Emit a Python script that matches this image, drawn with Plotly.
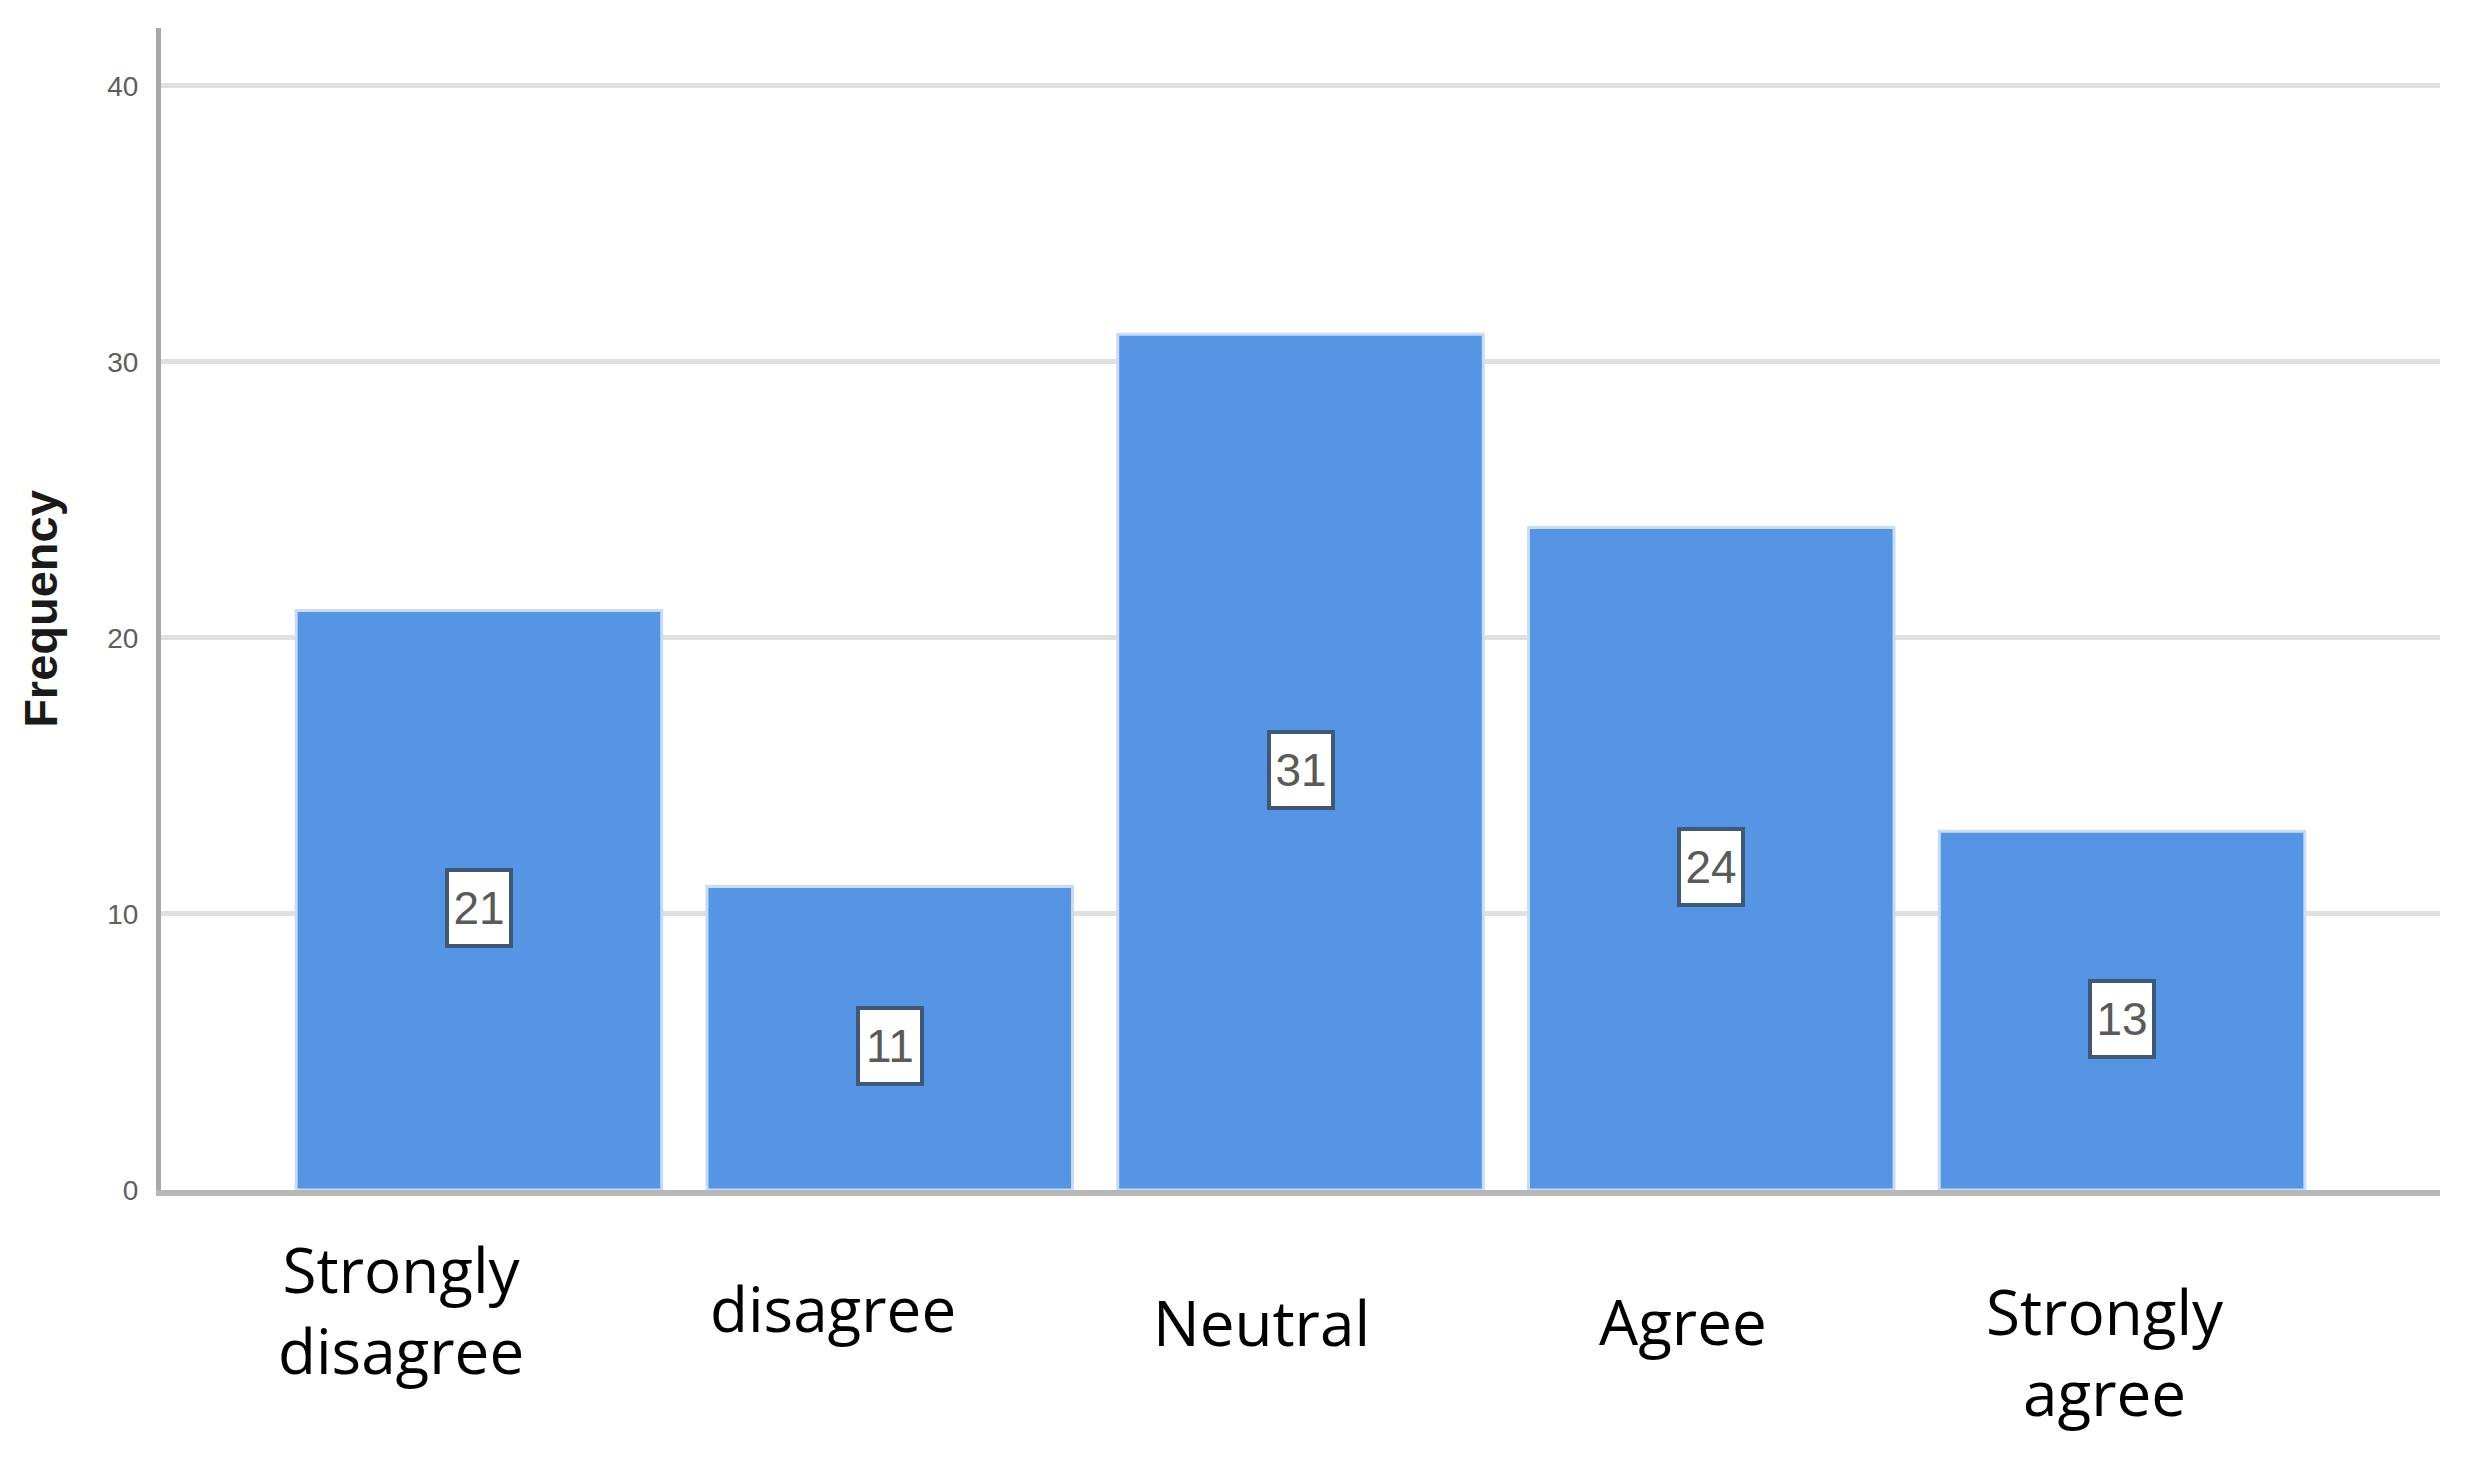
import plotly.graph_objects as go

categories = ["Strongly<br>disagree", "disagree", "Neutral", "Agree", "Strongly<br>agree"]
frequencies = [21, 11, 31, 24, 13]
y_ticks = [0, 10, 20, 30, 40]

# label placement tweaks (pixels): horizontal shift and vertical center in page pixels
label_xshift = [-78, -57, -39, -28, -17]
label_ycenter = [1309, 1308, 1322, 1321, 1351]

OFF = 8  # page body margin offset
W, H = 2479 - OFF, 1468 - OFF
L, R, T, B = 161 - OFF, 39, 28 - OFF, 278
plot_bottom = 1190

fig = go.Figure()
fig.add_trace(go.Bar(
    x=list(range(len(categories))),
    y=frequencies,
    marker=dict(color="#5595e4", line=dict(color="#c8dcf6", width=3)),
    width=0.89,
    hoverinfo="y",
))

annotations = []
for i, v in enumerate(frequencies):
    annotations.append(dict(
        x=i, y=v / 2, xref="x", yref="y", yshift=-8,
        text=str(v), showarrow=False,
        font=dict(family="Liberation Sans, Arial", size=46, color="#5a5a5a"),
        bgcolor="white", bordercolor="#3f5876", borderwidth=4,
        width=58, height=70, align="center", valign="middle",
    ))

for i, c in enumerate(categories):
    annotations.append(dict(
        x=i, y=0, xref="x", yref="paper",
        xshift=label_xshift[i], yshift=plot_bottom - label_ycenter[i],
        yanchor="middle", xanchor="center",
        text=c, showarrow=False, align="center",
        font=dict(family="Open Sans", size=62, color="#000000"),
    ))

fig.update_layout(
    width=W, height=H,
    margin=dict(l=L, r=R, t=T, b=B, pad=0),
    paper_bgcolor="white", plot_bgcolor="white",
    showlegend=False,
    annotations=annotations,
    xaxis=dict(
        range=[-0.774, len(categories) - 1 + 0.774],
        showticklabels=False, showgrid=False, zeroline=False,
        showline=True, linecolor="rgba(170,170,170,0.85)", linewidth=6,
        ticks="", fixedrange=True,
    ),
    yaxis=dict(
        range=[0, 42.1],
        tickvals=y_ticks, ticktext=[str(t) for t in y_ticks],
        tickfont=dict(family="Liberation Sans, Arial", size=28, color="#5e5e5e"),
        showgrid=True, gridcolor="#e0e0e0", gridwidth=5,
        zeroline=False,
        showline=True, linecolor="#a8a8a8", linewidth=5,
        ticks="", ticklabelstandoff=12,
        title=dict(text="<b>Frequency</b>", standoff=36,
                   font=dict(family="Liberation Sans, Arial", size=47, color="#1a1a1a")),
    ),
)

fig.write_html("out.html")
